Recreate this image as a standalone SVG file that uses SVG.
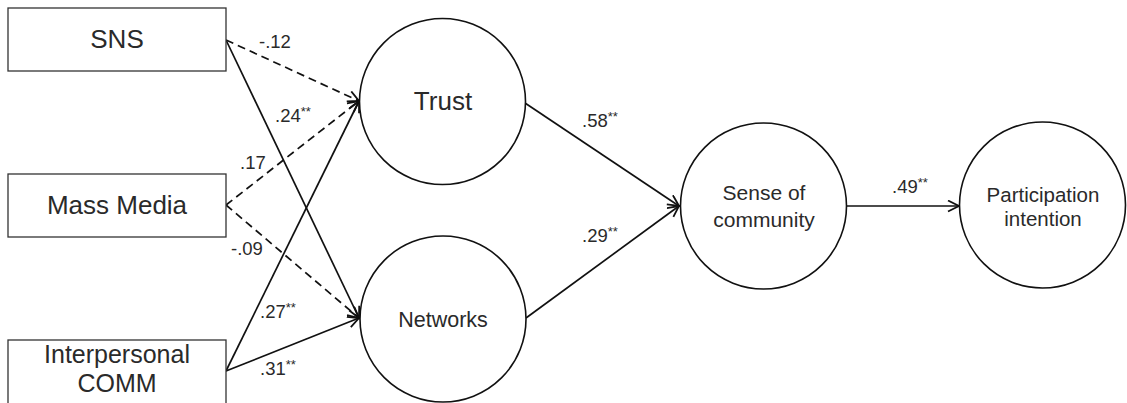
<svg xmlns="http://www.w3.org/2000/svg" width="1127" height="403" viewBox="0 0 1127 403">
<style>
.box{fill:#fff;stroke:#333;stroke-width:1.3}
.circ{fill:#fff;stroke:#111;stroke-width:1.6}
.lab{font-family:"Liberation Sans",Arial,sans-serif;fill:#2a2a2a;text-anchor:middle}
.edge{stroke:#111;stroke-width:1.7;fill:none;marker-end:url(#arr)}
.dash{stroke-dasharray:8 5}
.el{font-family:"Liberation Sans",Arial,sans-serif;font-size:18.5px;fill:#2a2a2a}
.sup{font-size:13px}
</style>
<defs>
<marker id="arr" markerUnits="userSpaceOnUse" markerWidth="14" markerHeight="14" refX="12" refY="6" orient="auto">
<path d="M1,0.5 L12,6 L1,11.5" fill="none" stroke="#111" stroke-width="1.8"/>
</marker>
</defs>
<rect width="1127" height="403" fill="#fff"/>
<g id="connectors">
<line class="edge dash" x1="226" y1="40" x2="359" y2="101"/>
<line class="edge" x1="226" y1="40" x2="359" y2="318"/>
<line class="edge dash" x1="226" y1="205" x2="359" y2="101"/>
<line class="edge dash" x1="226" y1="205" x2="359" y2="318"/>
<line class="edge" x1="226" y1="371" x2="359" y2="101"/>
<line class="edge" x1="226" y1="371" x2="359" y2="318"/>
<line class="edge" x1="525" y1="103" x2="679" y2="206"/>
<line class="edge" x1="526" y1="318" x2="679" y2="206"/>
<line class="edge" x1="847" y1="206" x2="959" y2="206"/>
<text class="el" x="259" y="48">-.12</text>
<text class="el" x="275" y="122">.24<tspan class="sup" dy="-6">**</tspan></text>
<text class="el" x="240" y="169">.17</text>
<text class="el" x="231" y="255">-.09</text>
<text class="el" x="260" y="318">.27<tspan class="sup" dy="-6">**</tspan></text>
<text class="el" x="260" y="375">.31<tspan class="sup" dy="-6">**</tspan></text>
<text class="el" x="582" y="127">.58<tspan class="sup" dy="-6">**</tspan></text>
<text class="el" x="582" y="242">.29<tspan class="sup" dy="-6">**</tspan></text>
<text class="el" x="892" y="193">.49<tspan class="sup" dy="-6">**</tspan></text>
</g>
<g id="sns">
<rect class="box" x="8" y="8" width="218" height="63"/>
<text class="lab" x="117" y="48" font-size="26">SNS</text>
</g>
<g id="massmedia">
<rect class="box" x="8" y="174" width="218" height="63"/>
<text class="lab" x="117" y="214" font-size="26">Mass Media</text>
</g>
<g id="interpersonal">
<rect class="box" x="8" y="340" width="218" height="64"/>
<text class="lab" x="117" y="363" font-size="25">Interpersonal</text>
<text class="lab" x="117" y="392" font-size="25">COMM</text>
</g>
<g id="trust">
<circle class="circ" cx="442.5" cy="101.5" r="83"/>
<text class="lab" x="443" y="110" font-size="26">Trust</text>
</g>
<g id="networks">
<circle class="circ" cx="443" cy="319" r="83"/>
<text class="lab" x="443" y="327" font-size="21.5">Networks</text>
</g>
<g id="sense">
<circle class="circ" cx="763.5" cy="206" r="83"/>
<text class="lab" x="764" y="200" font-size="21">Sense of</text>
<text class="lab" x="764" y="227" font-size="21">community</text>
</g>
<g id="participation">
<circle class="circ" cx="1042.5" cy="205" r="83"/>
<text class="lab" x="1043" y="202" font-size="20.5">Participation</text>
<text class="lab" x="1043" y="226" font-size="20.5">intention</text>
</g>
</svg>
